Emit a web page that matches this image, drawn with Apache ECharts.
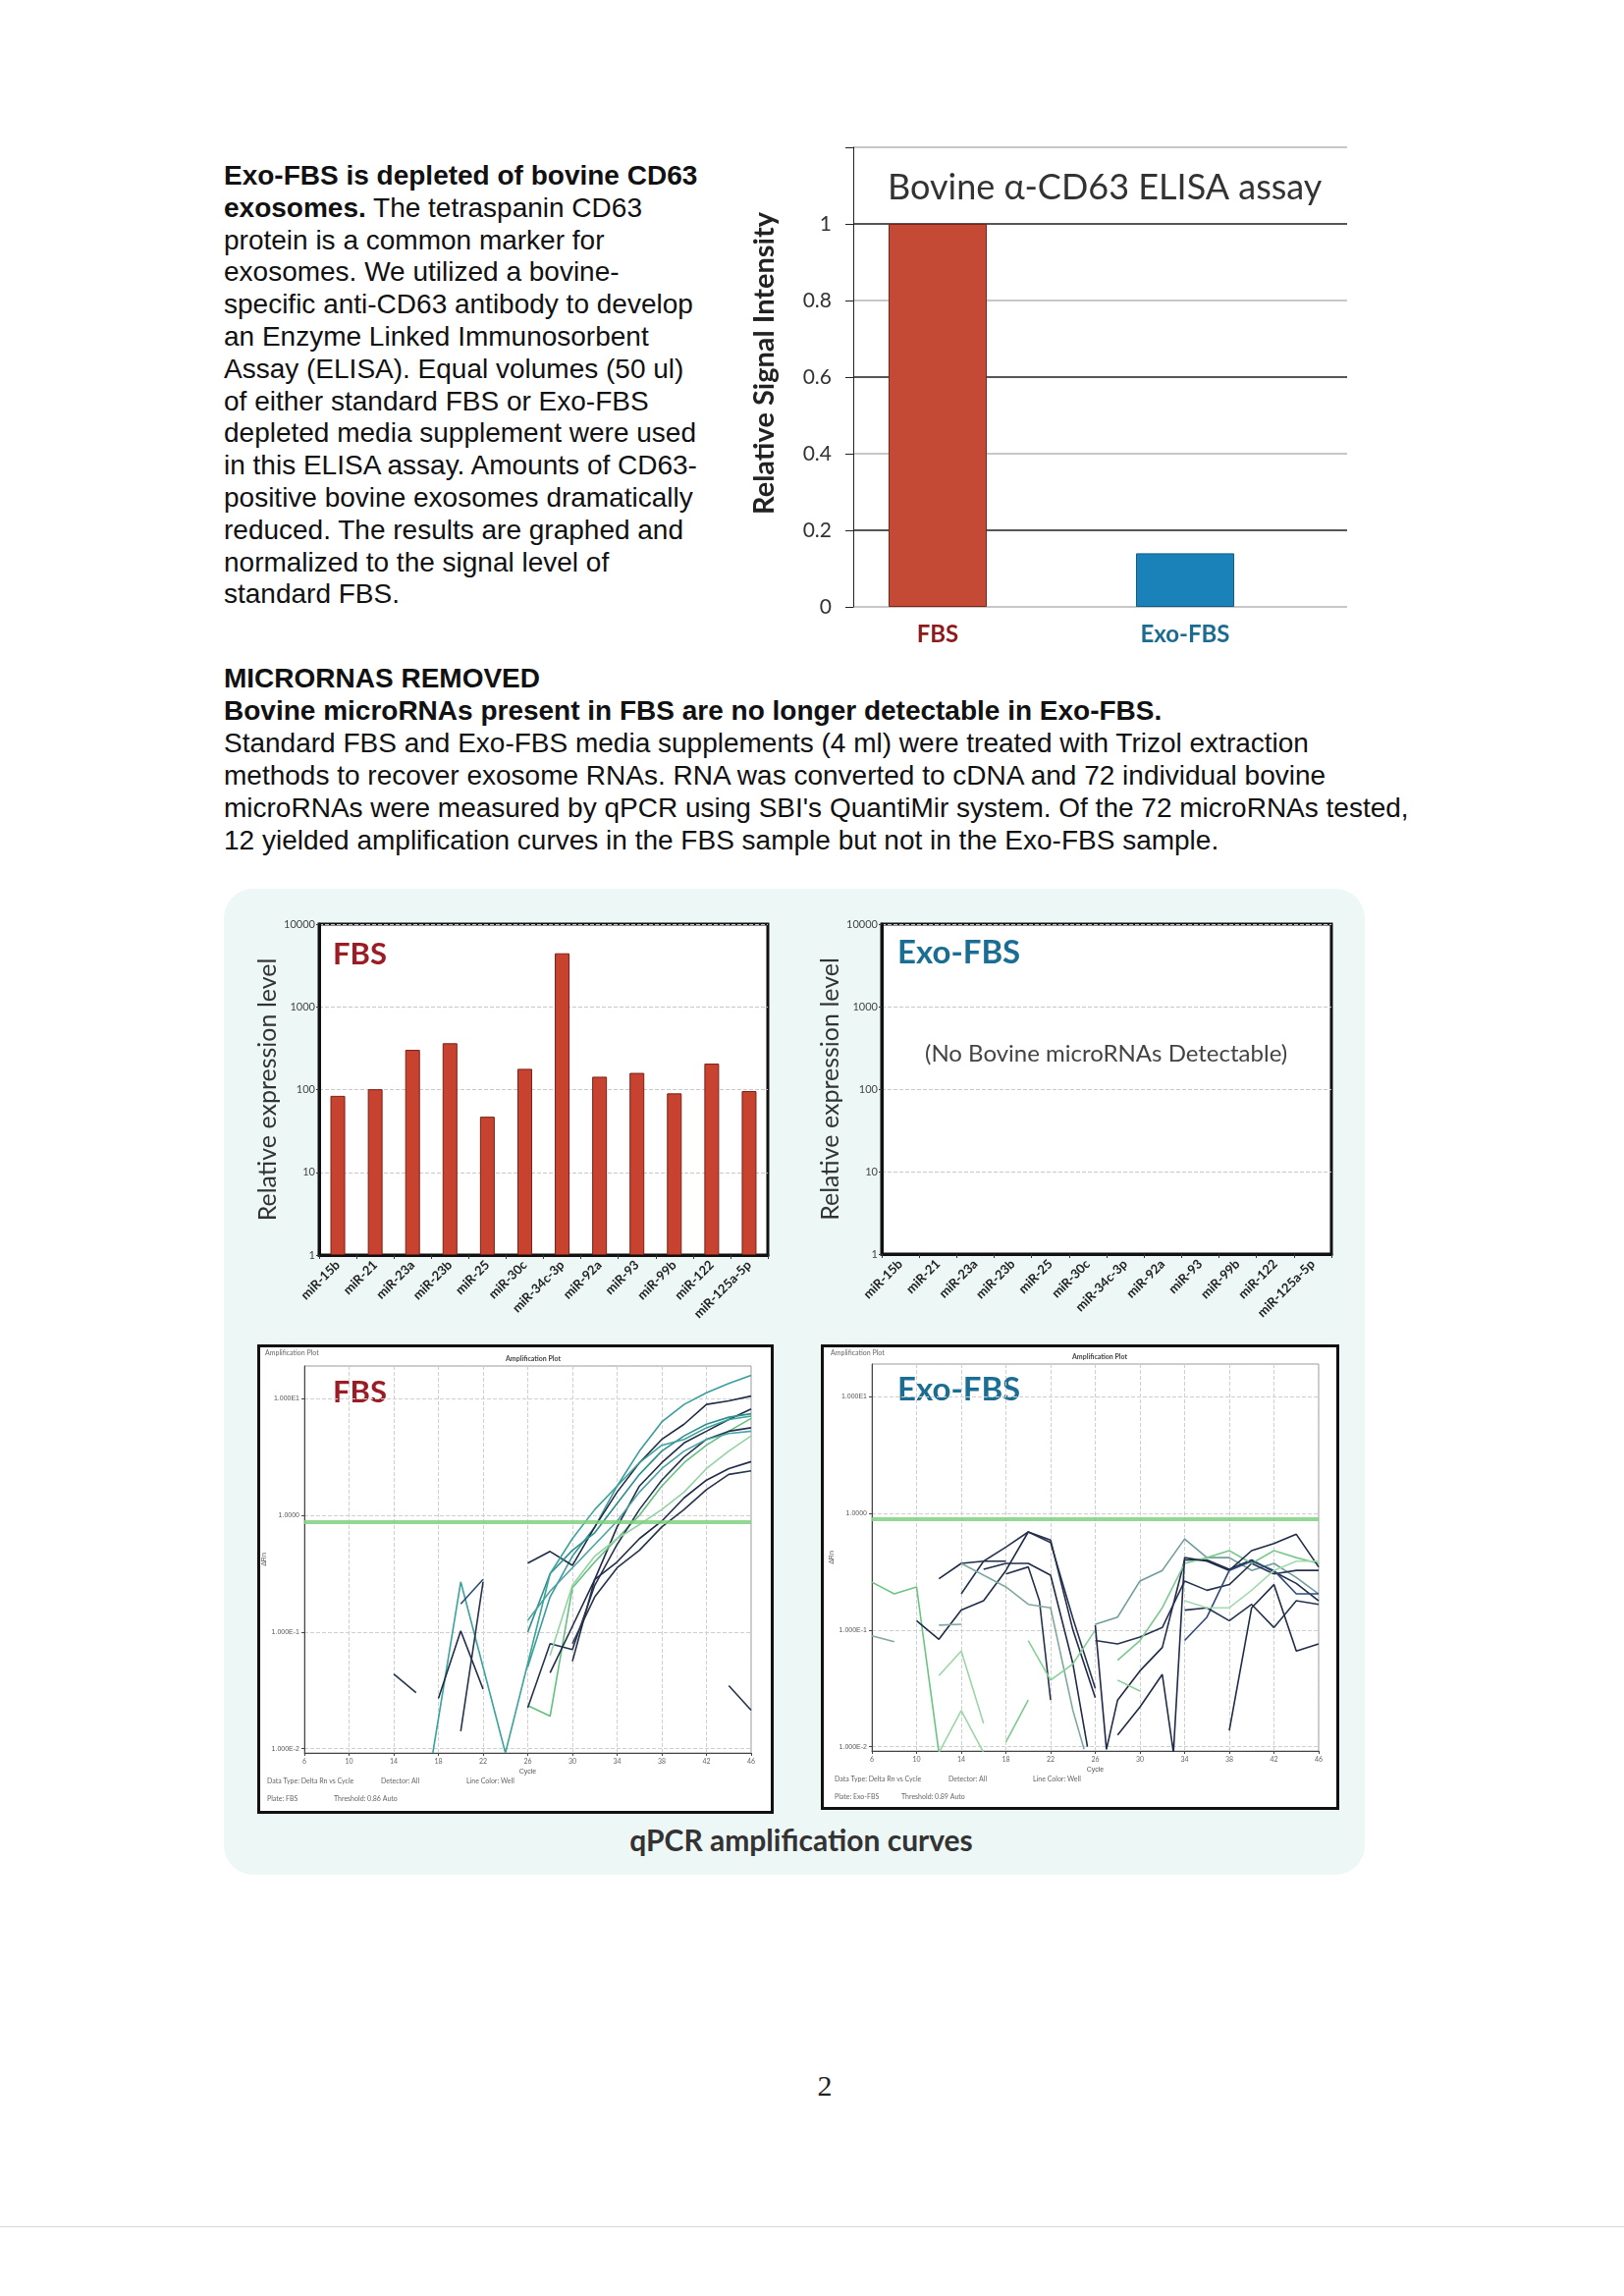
<!DOCTYPE html>
<html><head><meta charset="utf-8">
<script src="https://cdn.jsdelivr.net/npm/echarts@6/dist/echarts.min.js"></script>
<style>
html,body{margin:0;padding:0;background:#fff;}
#page{position:relative;width:1654px;height:2338px;overflow:hidden;background:#fff;}
.txt{position:absolute;font-family:"Liberation Sans",Arial,sans-serif;font-size:28px;color:#111;white-space:nowrap;}
#p1{left:228px;top:163px;line-height:32.8px;}
#p2{left:228px;top:674px;line-height:33.1px;}
#panel{position:absolute;left:228px;top:905px;width:1162px;height:1004px;background:#edf7f6;border-radius:30px;}
.frame{position:absolute;background:#fff;border:3px solid #111;box-sizing:border-box;}
#f1{left:262px;top:1369px;width:526px;height:478px;}
#f2{left:836px;top:1369px;width:528px;height:474px;}
#caption{position:absolute;left:566px;width:500px;top:1855px;text-align:center;font-family:Lato,"Open Sans",sans-serif;font-weight:bold;font-size:30px;color:#333;}
#pnum{position:absolute;left:800px;width:80px;top:2107px;text-align:center;font-family:"Liberation Serif","DejaVu Serif",serif;font-size:30px;color:#222;}
#rule{position:absolute;left:0;top:2267px;width:1654px;height:1px;background:#d8d8d8;}
#chart{position:absolute;left:0;top:0;width:1654px;height:2338px;}
</style></head>
<body><div id="page">
<div id="p1" class="txt"><b>Exo-FBS is depleted of bovine CD63</b><br><b>exosomes.</b> The tetraspanin CD63<br>protein is a common marker for<br>exosomes. We utilized a bovine-<br>specific anti-CD63 antibody to develop<br>an Enzyme Linked Immunosorbent<br>Assay (ELISA). Equal volumes (50 ul)<br>of either standard FBS or Exo-FBS<br>depleted media supplement were used<br>in this ELISA assay. Amounts of CD63-<br>positive bovine exosomes dramatically<br>reduced. The results are graphed and<br>normalized to the signal level of<br>standard FBS.</div>
<div id="p2" class="txt"><b>MICRORNAS REMOVED</b><br><b>Bovine microRNAs present in FBS are no longer detectable in Exo-FBS.</b><br>Standard FBS and Exo-FBS media supplements (4 ml) were treated with Trizol extraction<br>methods to recover exosome RNAs. RNA was converted to cDNA and 72 individual bovine<br>microRNAs were measured by qPCR using SBI's QuantiMir system. Of the 72 microRNAs tested,<br>12 yielded amplification curves in the FBS sample but not in the Exo-FBS sample.</div>
<div id="panel"></div>
<div id="f1" class="frame"></div>
<div id="f2" class="frame"></div>
<div id="caption">qPCR amplification curves</div>
<div id="pnum">2</div>
<div id="rule"></div>
<div id="chart"></div>
</div>
<script>
// ---------- DATA ----------
const elisaCategories = ['FBS', 'Exo-FBS'];
const elisaSignal = [1.0, 0.14];

const mirnaNames = ['miR-15b','miR-21','miR-23a','miR-23b','miR-25','miR-30c','miR-34c-3p','miR-92a','miR-93','miR-99b','miR-122','miR-125a-5p'];
const fbsExpression = [84, 101, 302, 363, 47, 178, 4440, 143, 159, 90, 206, 96];
const exoFbsExpression = []; // no bovine microRNAs detectable

const fbsThreshold = 0.87;
const exoThreshold = 0.89;

// FBS amplification curves: [cycle, delta Rn]
const fbsCurves = [
  [[26,0.0501],[28,0.2],[30,0.447],[32,0.794],[34,1.78],[36,3.55],[38,6.31],[40,8.91],[42,11.2],[44,13.5],[46,15.8]],
  [[26,0.389],[28,0.49],[30,0.372],[32,0.794],[34,1.58],[36,2.82],[38,4.47],[40,6.03],[42,8.91],[44,9.55],[46,10.5]],
  [[30,0.0562],[32,0.282],[34,0.794],[36,1.78],[38,2.82],[40,4.17],[42,5.25],[44,6.61],[46,8.13]],
  [[26,0.1],[28,0.316],[30,0.501],[32,0.708],[34,1.26],[36,2.24],[38,3.55],[40,4.79],[42,6.03],[44,6.92],[46,7.41]],
  [[26,0.0234],[28,0.019],[30,0.24],[32,0.398],[34,0.631],[36,1.0],[38,1.78],[40,2.82],[42,3.98],[44,5.25],[46,6.76]],
  [[26,0.0224],[28,0.0794],[30,0.0708],[32,0.251],[34,0.562],[36,1.12],[38,2.0],[40,3.16],[42,4.47],[44,5.25],[46,5.62]],
  [[26,0.126],[28,0.224],[30,0.355],[32,0.562],[34,0.891],[36,1.58],[38,2.51],[40,3.55],[42,4.47],[44,5.01],[46,5.25]],
  [[28,0.063],[30,0.251],[32,0.447],[34,0.631],[36,0.832],[38,1.12],[40,1.58],[42,2.51],[44,3.55],[46,4.79]],
  [[28,0.0447],[30,0.112],[32,0.282],[34,0.398],[36,0.631],[38,0.891],[40,1.41],[42,2.0],[44,2.51],[46,2.88]],
  [[30,0.0794],[32,0.2],[34,0.355],[36,0.501],[38,0.794],[40,1.12],[42,1.66],[44,2.24],[46,2.4]],
  [[17.5,0.0092],[20,0.269],[22,0.0501],[24,0.0092],[26,0.0537],[28,0.316],[30,0.631],[32,1.12],[34,1.78],[36,2.82],[38,3.98],[40,4.47],[42,5.62],[44,6.61],[46,7.08]],
  [[18,0.0269],[20,0.102],[22,0.0324]],
  [[20,0.0141],[22,0.269]],
  [[20,0.174],[22,0.282]],
  [[14,0.0437],[16,0.0302]],
  [[44,0.0347],[46,0.0214]]
];
const fbsCurveColors = ['#3a9c9c','#1f2b48','#1f2b48','#2f8f8f','#62bf7e','#26334f','#4aa3a3','#93d3a3','#1f2b48','#26334f','#3aa39a','#1f2b48','#26334f','#2c4a78','#26334f','#26334f'];

// Exo-FBS amplification curves: [cycle, delta Rn]
const exoCurves = [
  [[6,0.257],[8,0.204],[10,0.234],[12,0.0089]],
  [[6,0.0891],[8,0.0794]],
  [[10,0.12],[12,0.0832],[14,0.148],[16,0.178],[18,0.324],[20,0.692],[22,0.589],[24,0.1],[26,0.0263]],
  [[12,0.275],[14,0.372],[16,0.389],[18,0.389]],
  [[14,0.204],[16,0.389],[18,0.513],[20,0.692],[22,0.562],[24,0.126],[26,0.0316]],
  [[16,0.331],[18,0.372],[20,0.372],[22,0.295],[24,0.0513],[25.3,0.01]],
  [[18,0.302],[20,0.347],[21,0.178],[22,0.0251]],
  [[12,0.11],[14,0.112]],
  [[12,0.0407],[14,0.066],[16,0.0158]],
  [[12,0.0089],[14,0.0204],[16,0.0089]],
  [[18,0.011],[20,0.0251]],
  [[14,0.372],[18,0.234],[20,0.166],[22,0.155],[24,0.0204],[25,0.0095]],
  [[20,0.0813],[22,0.0372],[24,0.0513],[26,0.1]],
  [[26,0.112],[28,0.129],[30,0.263],[32,0.324],[34,0.603],[36,0.417],[38,0.417],[40,0.324],[42,0.372],[44,0.282],[46,0.204]],
  [[26,0.11],[27,0.0095],[28,0.0251],[30,0.0447],[32,0.0708],[34,0.398],[36,0.398],[38,0.331],[40,0.398],[42,0.316],[44,0.251],[46,0.178]],
  [[26,0.0813],[28,0.0759],[30,0.0871],[32,0.105],[34,0.263],[36,0.219],[38,0.245],[40,0.372],[42,0.302],[44,0.324],[46,0.324]],
  [[28,0.055],[30,0.0813],[32,0.155],[34,0.372],[36,0.417],[38,0.479],[40,0.372],[42,0.479],[44,0.417],[46,0.372]],
  [[28,0.0126],[30,0.0219],[32,0.0417],[33,0.0089],[34,0.417],[36,0.389],[38,0.324],[40,0.479],[42,0.55],[44,0.661],[46,0.347]],
  [[34,0.0813],[36,0.129],[38,0.324],[40,0.389],[42,0.324],[44,0.204],[46,0.204]],
  [[34,0.148],[36,0.155],[38,0.12],[40,0.166],[42,0.105],[44,0.178],[46,0.166]],
  [[38,0.0138],[40,0.155],[42,0.245],[44,0.066],[46,0.0759]],
  [[34,0.178],[36,0.155],[38,0.155],[40,0.219],[42,0.324],[44,0.389],[46,0.389]],
  [[28,0.0372],[30,0.03]]
];
const exoCurveColors = ['#6cc484','#7fa8a0','#1f2b48','#1f2b48','#26334f','#1f2b48','#26334f','#7fa8a0','#9bd6a8','#9bd6a8','#7cc98f','#7fa8a0','#86cf96','#6f9c9c','#1f2b48','#26334f','#7cc98f','#1f2b48','#2c4a78','#26334f','#1f2b48','#a3dbb0','#86cf96'];

const cycleMin = 6, cycleMax = 46, cycleStep = 4;
const dRnMin = 0.0092, dRnMax = 19;

// ---------- CHART ----------
const chart = echarts.init(document.getElementById('chart'), null, {renderer:'canvas', width:1654, height:2338});
const FONT = 'Lato';
const labelColors = {'FBS':'#8e1b1b','Exo-FBS':'#1b6c8e'};
const barColors = ['#c44a35','#1a82b8'];
const barBorders = ['#7a2418','#0d5f8a'];

function logBarX(gi){
  return {gridIndex:gi, type:'category', data:mirnaNames,
    axisLine:{lineStyle:{color:'#111',width:3}},
    axisTick:{show:true,length:4,lineStyle:{color:'#333',width:1}},
    axisLabel:{interval:0,rotate:45,fontFamily:FONT,fontWeight:'bold',fontSize:13,color:'#222',margin:8}};
}
function logBarY(gi){
  return {gridIndex:gi, type:'log', logBase:10, min:1, max:10000,
    axisLine:{show:true,lineStyle:{color:'#111',width:3}},
    axisTick:{show:true,length:3,lineStyle:{color:'#333'}},
    axisLabel:{fontFamily:FONT,fontSize:11,color:'#444',margin:4,formatter:v=>String(Math.round(v))},
    splitLine:{show:true,lineStyle:{color:'#c8c8c8',type:'dashed',width:1}},
    name:'Relative expression level', nameLocation:'middle', nameGap:39,
    nameTextStyle:{fontFamily:FONT,fontSize:25,color:'#333'}};
}
function ampX(gi){
  return {gridIndex:gi, type:'value', min:cycleMin, max:cycleMax, interval:cycleStep,
    axisLine:{lineStyle:{color:'#444',width:1}},
    axisTick:{show:true,length:3},
    axisLabel:{fontSize:7,color:'#666',margin:5,fontFamily:FONT},
    splitLine:{show:true,lineStyle:{color:'#cfcfcf',type:'dashed',width:1}},
    name:'Cycle', nameLocation:'middle', nameGap:16, nameTextStyle:{fontSize:7,color:'#555'}};
}
function ampY(gi){
  return {gridIndex:gi, type:'log', logBase:10, min:dRnMin, max:dRnMax,
    axisLine:{show:true,lineStyle:{color:'#444',width:1}},
    axisTick:{show:true,length:3},
    axisLabel:{fontSize:7,color:'#555',margin:5,showMinLabel:false,showMaxLabel:false,
      formatter:v=>{ if(Math.abs(v-10)<1e-6) return '1.000E1'; if(Math.abs(v-1)<1e-9) return '1.0000';
        if(Math.abs(v-0.1)<1e-9) return '1.000E-1'; if(Math.abs(v-0.01)<1e-9) return '1.000E-2'; return ''; }},
    splitLine:{show:true,lineStyle:{color:'#cfcfcf',type:'dashed',width:1}},
    name:'\u0394Rn', nameLocation:'middle', nameGap:34, nameTextStyle:{fontSize:7,color:'#555'}};
}

const series = [];
series.push({type:'bar', xAxisIndex:1, yAxisIndex:1, barWidth:100,
  data: elisaSignal.map((v,i)=>({value:v,itemStyle:{color:barColors[i],borderColor:barBorders[i],borderWidth:1}}))});
series.push({type:'bar', name:'FBS', xAxisIndex:2, yAxisIndex:2, barWidth:15, data:fbsExpression,
  itemStyle:{color:'#c8432f',borderColor:'#7a1f16',borderWidth:1}});
series.push({type:'bar', name:'Exo-FBS', xAxisIndex:3, yAxisIndex:3, barWidth:15, data:exoFbsExpression,
  itemStyle:{color:'#1a82b8'}});
fbsCurves.forEach((pts,i)=>{
  const s = {type:'line', xAxisIndex:4, yAxisIndex:4, data:pts, symbol:'none', silent:true,
    lineStyle:{width:1.6,color:fbsCurveColors[i]}};
  if(i===0) s.markLine = {silent:true,symbol:'none',label:{show:false},
    lineStyle:{color:'#7fd07f',width:4,type:'solid',opacity:0.85},data:[{yAxis:fbsThreshold}]};
  series.push(s);
});
exoCurves.forEach((pts,i)=>{
  const s = {type:'line', xAxisIndex:5, yAxisIndex:5, data:pts, symbol:'none', silent:true,
    lineStyle:{width:1.6,color:exoCurveColors[i]}};
  if(i===0) s.markLine = {silent:true,symbol:'none',label:{show:false},
    lineStyle:{color:'#7fd07f',width:4,type:'solid',opacity:0.85},data:[{yAxis:exoThreshold}]};
  series.push(s);
});

function tiny(text,left,top,extra){ return Object.assign({type:'text',left:left,top:top,silent:true,
  style:{text:text,fill:'#666',font:'7px Lato'}},extra||{}); }

const option = {
  animation:false,
  grid:[
    {left:869, top:150, width:503, height:468},
    {left:829, top:150, width:504, height:468},
    {left:325, top:941, width:457, height:337, show:true, backgroundColor:'#fff', borderColor:'#111', borderWidth:3},
    {left:898, top:941, width:458, height:336, show:true, backgroundColor:'#fff', borderColor:'#111', borderWidth:3},
    {left:310, top:1391, width:455, height:394, show:true, backgroundColor:'#fff', borderColor:'#999', borderWidth:1},
    {left:888, top:1389, width:455, height:394, show:true, backgroundColor:'#fff', borderColor:'#999', borderWidth:1}
  ],
  xAxis:[
    {gridIndex:0, type:'category', data:elisaCategories, show:false},
    {gridIndex:1, type:'category', data:elisaCategories,
      axisLine:{show:false}, axisTick:{show:false},
      axisLabel:{fontFamily:FONT,fontWeight:'bold',fontSize:24,margin:16,color:(v)=>labelColors[v]}},
    logBarX(2), logBarX(3), ampX(4), ampX(5)
  ],
  yAxis:[
    {gridIndex:0, type:'value', min:0, max:1.2, interval:0.2,
      axisLine:{show:true,lineStyle:{color:'#222',width:1}},
      axisTick:{show:true,length:8,lineStyle:{color:'#222'}},
      axisLabel:{fontFamily:FONT,fontSize:21,color:'#333',margin:22,
        formatter:v=>(v>1.1?'':String(+v.toFixed(1)))},
      splitLine:{show:true,lineStyle:{color:['#b5b5b5','#1e1e1e'],width:1.5}},
      name:'Relative Signal Intensity', nameLocation:'middle', nameGap:76,
      nameTextStyle:{fontFamily:FONT,fontWeight:'bold',fontSize:29,color:'#222',padding:[0,0,0,28]}},
    {gridIndex:1, type:'value', min:0, max:1.2, show:false, splitLine:{show:false}},
    logBarY(2), logBarY(3), ampY(4), ampY(5)
  ],
  series:series,
  graphic:[
    {type:'text', left:904, top:173, silent:true, style:{text:'Bovine \u03b1-CD63 ELISA assay', fill:'#333', font:'36px Lato'}},
    {type:'text', left:339, top:956, silent:true, style:{text:'FBS', fill:'#9b1c24', font:'bold 31px Lato'}},
    {type:'text', left:914, top:954, silent:true, style:{text:'Exo-FBS', fill:'#1a6e93', font:'bold 33px Lato'}},
    {type:'text', left:942, top:1061, silent:true, style:{text:'(No Bovine microRNAs Detectable)', fill:'#444', font:'24px Lato'}},
    {type:'text', left:339, top:1402, silent:true, style:{text:'FBS', fill:'#9b1c24', font:'bold 31px Lato'}},
    {type:'text', left:914, top:1399, silent:true, style:{text:'Exo-FBS', fill:'#1a6e93', font:'bold 33px Lato'}},
    tiny('Amplification Plot',270,1374),
    tiny('Amplification Plot',515,1380,{style:{text:'Amplification Plot',fill:'#444',font:'bold 7px Lato'}}),
    tiny('Data Type: Delta Rn vs Cycle',272,1810),
    tiny('Detector: All',388,1810),
    tiny('Line Color: Well',475,1810),
    tiny('Plate: FBS',272,1828),
    tiny('Threshold: 0.86 Auto',340,1828),
    tiny('Amplification Plot',846,1374),
    tiny('Amplification Plot',1092,1378,{style:{text:'Amplification Plot',fill:'#444',font:'bold 7px Lato'}}),
    tiny('Data Type: Delta Rn vs Cycle',850,1808),
    tiny('Detector: All',966,1808),
    tiny('Line Color: Well',1052,1808),
    tiny('Plate: Exo-FBS',850,1826),
    tiny('Threshold: 0.89 Auto',918,1826)
  ]
};
chart.setOption(option);
</script>
</body></html>
